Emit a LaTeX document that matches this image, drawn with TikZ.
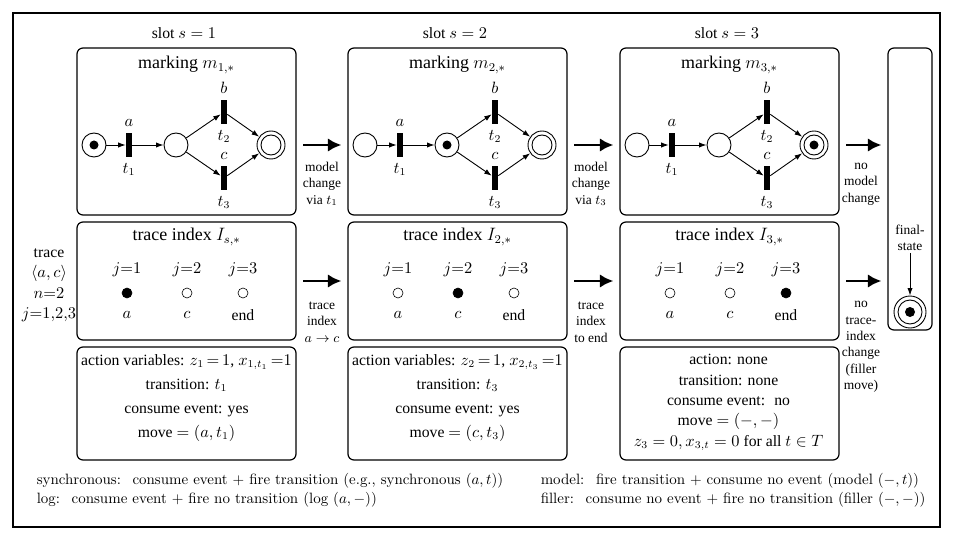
\documentclass[tikz,border=0pt,11pt]{standalone}
\usepackage{fontspec}
\setmainfont{Liberation Serif}
\newfontfamily\lmfont{Latin Modern Roman}
\usepackage{tikz}
\usetikzlibrary{arrows.meta}

\newcommand{\px}{0.0235cm}

\begin{document}
\begin{tikzpicture}[x=\px, y=-\px, font=\fontsize{10.5}{12.6}\selectfont,
    box/.style={draw, rounded corners=4pt, line width=0.8pt},
    place/.style={circle, draw, line width=0.6pt, minimum size=24*\px, inner sep=0pt},
    trans/.style={rectangle, fill=black, minimum width=6*\px, minimum height=24*\px, inner sep=0pt},
    arc/.style={-{Latex[length=5pt,width=3.5pt]}, line width=0.6pt},
    bigarrow/.style={-{Latex[length=9pt,width=9pt]}, line width=2pt, shorten <=4.5pt, shorten >=4pt},
    small label/.style={font=\footnotesize, align=center, inner sep=1pt},
    title/.style={font=\large},
    legend/.style={anchor=west, align=left, font={\lmfont\fontsize{10}{12.5}\selectfont}}
  ]
  \useasboundingbox (0,0) rectangle (953,540);
  \draw[line width=0.8pt] (13,13) rectangle (940,527);

  \foreach \s/\x/\tok/\ilab in {1/77/pa/s, 2/348/pb/2, 3/620/pc/3} {
    \node (slot-\s) at (\x+107,33) {slot $s=\s$};
    \node[box, minimum width=219*\px, minimum height=167*\px] (mark-\s) at (\x+109.5,131.5) {};
    \node[box, minimum width=219*\px, minimum height=118*\px] (idx-\s) at (\x+109.5,281) {};
    \node[box, minimum width=219*\px, minimum height=113*\px] (act-\s) at (\x+109.5,403.5) {};
    \node[title] (mt-\s) at (\x+109.5,65) {marking $m_{\s,*}$};
    \node[title] (it-\s) at (\x+109.5,237) {trace index $I_{\ilab,*}$};

    \node[place] (pa-\s) at (\x+17,145) {};
    \node[trans, label=above:$a$, label=below:$t_1$] (ta-\s) at (\x+52,145) {};
    \node[place] (pb-\s) at (\x+99,145) {};
    \node[trans, label=above:$b$, label=below:$t_2$] (tb-\s) at (\x+147,112) {};
    \node[trans, label=above:$c$, label=below:$t_3$] (tc-\s) at (\x+147,178) {};
    \node[place, minimum size=28*\px] (pc-\s) at (\x+194,145) {};
    \draw[line width=0.6pt] (pc-\s) circle (10);
    \fill (\tok-\s) circle (4.5);
    \draw[arc] (pa-\s) -- (ta-\s);
    \draw[arc] (ta-\s) -- (pb-\s);
    \draw[arc] (pb-\s) -- (tb-\s);
    \draw[arc] (pb-\s) -- (tc-\s);
    \draw[arc] (tb-\s) -- (pc-\s);
    \draw[arc] (tc-\s) -- (pc-\s);

    \foreach \j/\jx/\jlab in {1/50/$a$, 2/110/$c$, 3/166/end} {
      \ifnum\j=\s \def\dotcol{black}\else \def\dotcol{white}\fi
      \node (j\j-\s) at (\x+\jx,270) {$j{=}\j$};
      \node[circle, draw, fill=\dotcol, minimum size=10*\px, inner sep=0pt] (d\j-\s) at (\x+\jx,293) {};
      \node (l\j-\s) at (\x+\jx,315) {\jlab};
    }
  }

  \node[align=center] (at-1) at (186.5,398) {action variables: $z_1\,{=}\,1$, $x_{1,t_1}\,{=}1$\\[3.5pt]
    transition: $t_1$\\[3.5pt] consume event: yes\\[3.5pt] move $=(a,t_1)$};
  \node[align=center] (at-2) at (457.5,398) {action variables: $z_2\,{=}\,1$, $x_{2,t_3}\,{=}1$\\[3.5pt]
    transition: $t_3$\\[3.5pt] consume event: yes\\[3.5pt] move $=(c,t_3)$};
  \node[align=center] (at-3) at (728.5,402.5) {action: none\\[1pt] transition: none\\[1pt]
    consume event:~ no\\[1pt] move $=(-,-)$\\[1pt] $z_3=0, x_{3,t}=0$ for all $t\in T$};

  \node[align=center] (trace) at (49,285) {trace\\[1pt] $\langle a,c\rangle$\\[1pt] $n{=}2$\\[1pt] $j{=}1{,}2{,}3$};

  \node[box, minimum width=44*\px, minimum height=282*\px] (final) at (910,189) {};
  \node[small label] (fs) at (910,238) {final-\\state};
  \node[circle, draw, line width=0.6pt, minimum size=32*\px, inner sep=0pt] (fin) at (910,312) {};
  \draw[line width=0.6pt] (fin) circle (12);
  \fill (fin) circle (5);
  \draw[arc] (fs) -- (fin);

  \draw[bigarrow] (mark-1.east |- pa-1) -- (mark-2.west |- pa-1);
  \draw[bigarrow] (mark-2.east |- pa-2) -- (mark-3.west |- pa-2);
  \draw[bigarrow] (mark-3.east |- pa-3) -- (final.west |- pa-3);
  \draw[bigarrow] (idx-1.east) -- (idx-2.west);
  \draw[bigarrow] (idx-2.east) -- (idx-3.west);
  \draw[bigarrow] (idx-3.east) -- (final.west |- idx-3.east);

  \node[small label] (mc-1) at (322,184) {model\\change\\via $t_1$};
  \node[small label] (mc-2) at (591,184) {model\\change\\via $t_3$};
  \node[small label] (mc-3) at (861,184) {no\\model\\change};
  \node[small label] (tc-1) at (322,322) {trace\\index\\$a\to c$};
  \node[small label] (tc-2) at (591,322) {trace\\index\\to end};
  \node[small label] (tc-3) at (861,347) {no\\trace-\\index\\change\\(filler\\move)};

  \node[legend] (fn-l) at (31,490)
    {synchronous:~ consume event $+$ fire transition (e.g., synchronous $(a,t)$)\\[0.5pt]
    log:~ consume event $+$ fire no transition (log $(a,-)$)};
  \node[legend] (fn-r) at (535,490)
    {model:~ fire transition $+$ consume no event (model $(-,t)$)\\[0.5pt]
    filler:~ consume no event $+$ fire no transition (filler $(-,-)$)};
\end{tikzpicture}
\end{document}
